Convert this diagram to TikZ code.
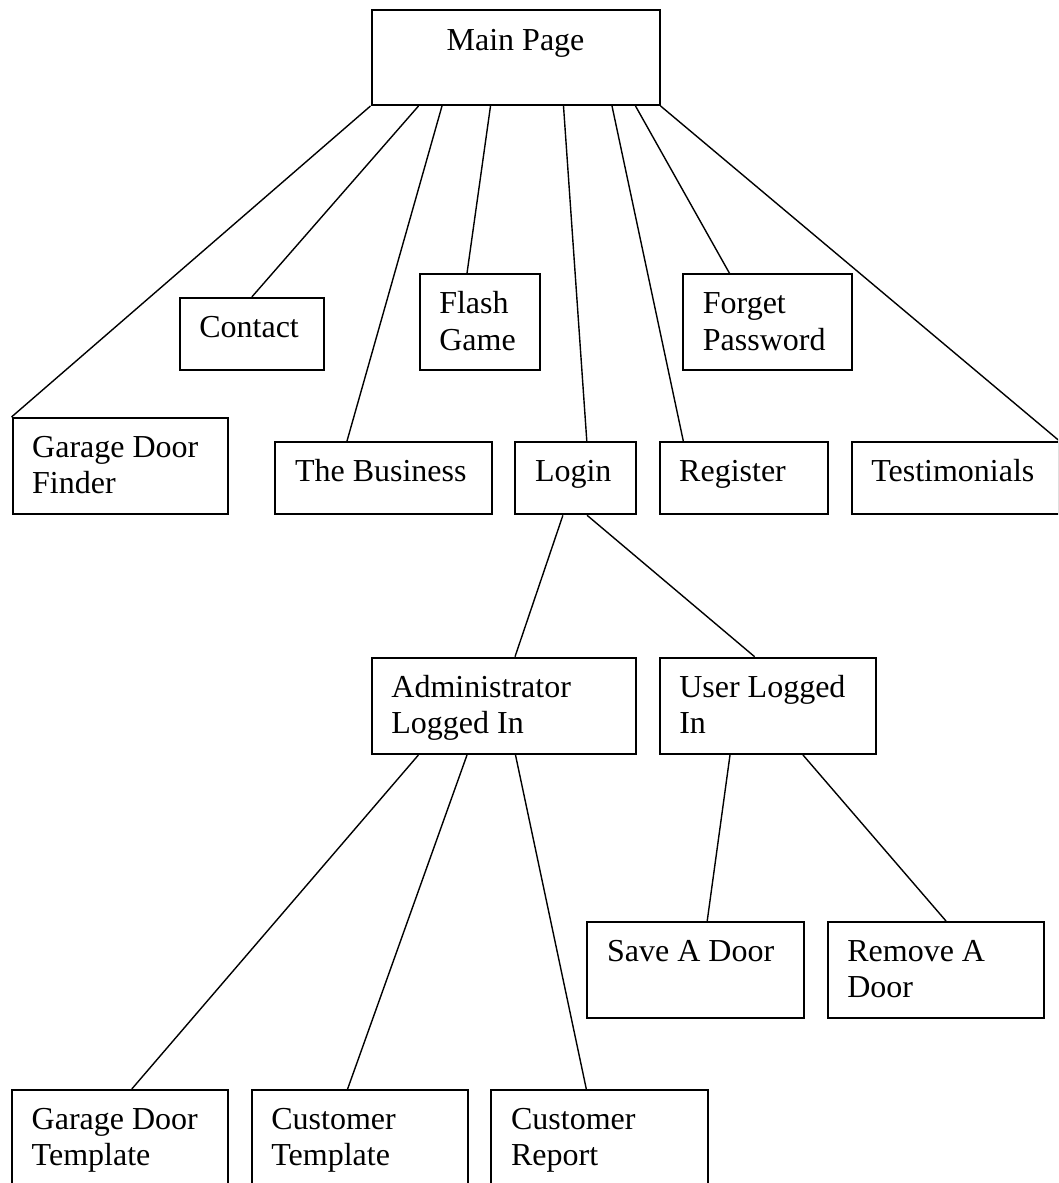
\documentclass[tikz,border=0pt]{standalone}
\usepackage{fontspec}
\setmainfont{Liberation Serif}
\begin{document}
\begin{tikzpicture}[x=1pt,y=-1pt,
  box/.style={draw, line width=2pt, inner sep=0pt, anchor=north west},
  txt/.style={anchor=base west, inner sep=0pt, align=left,
              font=\fontsize{32}{36.2}\selectfont},
  link/.style={line width=1.4pt}]
\useasboundingbox (0,0) rectangle (1058,1183);
\clip (0,0) rectangle (1058,1183);
\fill[white] (0,0) rectangle (1058,1183);
% boxes
\node[box, minimum width=288.1pt, minimum height=95pt] (main) at (370.5,9) {};
\node[box, minimum width=144.4pt, minimum height=72pt] (contact) at (178.6,297) {};
\node[box, minimum width=120.7pt, minimum height=95.7pt] (flash) at (418.6,273.3) {};
\node[box, minimum width=169pt, minimum height=95.7pt] (forget) at (682.2,273.3) {};
\node[box, minimum width=215.3pt, minimum height=96.3pt] (gdf) at (11.5,417) {};
\node[box, minimum width=217.1pt, minimum height=72.3pt] (business) at (274.3,441) {};
\node[box, minimum width=120.9pt, minimum height=72.3pt] (login) at (514.3,441) {};
\node[box, minimum width=168.5pt, minimum height=72.3pt] (register) at (658.5,441) {};
\node[box, minimum width=206.9pt, minimum height=72.3pt] (testim) at (850.6,441) {};
\node[box, minimum width=264.3pt, minimum height=96.3pt] (admin) at (370.7,656.7) {};
\node[box, minimum width=216.2pt, minimum height=96.3pt] (user) at (658.6,656.7) {};
\node[box, minimum width=216.6pt, minimum height=95.7pt] (save) at (586.4,921) {};
\node[box, minimum width=216.6pt, minimum height=95.7pt] (remove) at (826.6,921) {};
\node[box, minimum width=215.8pt, minimum height=120pt] (gdt) at (11,1089) {};
\node[box, minimum width=216.3pt, minimum height=120pt] (ctemp) at (250.7,1089) {};
\node[box, minimum width=216.2pt, minimum height=120pt] (creport) at (490.4,1089) {};
% texts (one-line: baseline 40.5 below top; two-line: last baseline 76.7 below top)
\node[txt, anchor=base] (t-main) at ([yshift=-41pt]main.north) {Main Page};
\node[txt] (t-contact) at ([xshift=20.5pt,yshift=-40.5pt]contact.north west) {Contact};
\node[txt] (t-flash) at ([xshift=20.5pt,yshift=-76.7pt]flash.north west) {Flash\\Game};
\node[txt] (t-forget) at ([xshift=20.5pt,yshift=-76.7pt]forget.north west) {Forget\\Password};
\node[txt] (t-gdf) at ([xshift=20.5pt,yshift=-76.7pt]gdf.north west) {Garage Door\\Finder};
\node[txt] (t-business) at ([xshift=20.5pt,yshift=-40.5pt]business.north west) {The Business};
\node[txt] (t-login) at ([xshift=20.5pt,yshift=-40.5pt]login.north west) {Login};
\node[txt] (t-register) at ([xshift=20.5pt,yshift=-40.5pt]register.north west) {Register};
\node[txt] (t-testim) at ([xshift=20.5pt,yshift=-40.5pt]testim.north west) {Testimonials};
\node[txt] (t-admin) at ([xshift=20.5pt,yshift=-76.7pt]admin.north west) {Administrator\\Logged In};
\node[txt] (t-user) at ([xshift=20.5pt,yshift=-76.7pt]user.north west) {User Logged\\In};
\node[txt] (t-save) at ([xshift=20.5pt,yshift=-40.5pt]save.north west) {Save A Door};
\node[txt] (t-remove) at ([xshift=20.5pt,yshift=-76.7pt]remove.north west) {Remove A\\Door};
\node[txt] (t-gdt) at ([xshift=20.5pt,yshift=-76.7pt]gdt.north west) {Garage Door\\Template};
\node[txt] (t-ctemp) at ([xshift=20.5pt,yshift=-76.7pt]ctemp.north west) {Customer\\Template};
\node[txt] (t-creport) at ([xshift=20.5pt,yshift=-76.7pt]creport.north west) {Customer\\Report};
% connectors
\draw[link] (main.south west) -- (gdf.north west);
\draw[link] ([xshift=48pt]main.south west) -- ([xshift=73.2pt]contact.north west);
\draw[link] ([xshift=71.5pt]main.south west) -- ([xshift=72.7pt]business.north west);
\draw[link] ([xshift=120pt]main.south west) -- ([xshift=48.4pt]flash.north west);
\draw[link] ([xshift=193pt]main.south west) -- ([xshift=72.5pt]login.north west);
\draw[link] ([xshift=241.5pt]main.south west) -- ([xshift=24.8pt]register.north west);
\draw[link] ([xshift=265pt]main.south west) -- ([xshift=47.3pt]forget.north west);
\draw[link] (main.south east) -- (testim.north east);
\draw[link] ([xshift=48.6pt]login.south west) -- ([xshift=144.3pt]admin.north west);
\draw[link] ([xshift=72.8pt]login.south west) -- ([xshift=96pt]user.north west);
\draw[link] ([xshift=47.7pt]admin.south west) -- ([xshift=120.8pt]gdt.north west);
\draw[link] ([xshift=96.3pt]admin.south west) -- ([xshift=96.9pt]ctemp.north west);
\draw[link] ([xshift=144.8pt]admin.south west) -- ([xshift=95.9pt]creport.north west);
\draw[link] ([xshift=71.4pt]user.south west) -- ([xshift=120.8pt]save.north west);
\draw[link] ([xshift=144.4pt]user.south west) -- ([xshift=119.4pt]remove.north west);
\end{tikzpicture}
\end{document}
